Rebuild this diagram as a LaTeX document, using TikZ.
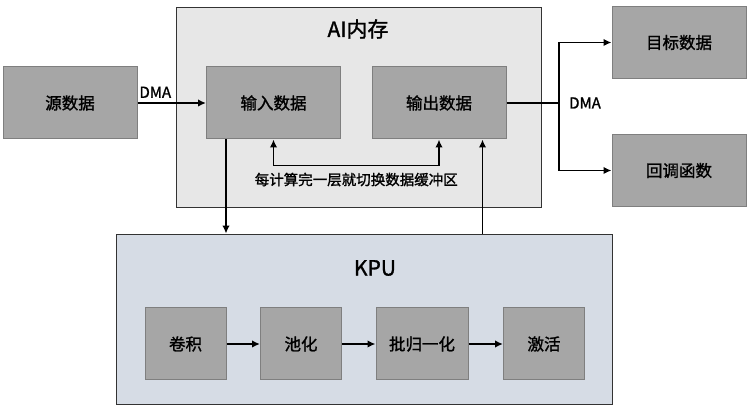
\documentclass[tikz,border=0pt]{standalone}
\usepackage{fontspec}
\setmainfont{Noto Sans CJK SC}[FakeBold=1.4]
\usetikzlibrary{arrows.meta}
\definecolor{boxgray}{HTML}{A6A6A6}
\definecolor{boxline}{HTML}{7F7F7F}
\definecolor{memfill}{HTML}{E7E7E7}
\definecolor{kpufill}{HTML}{D6DCE5}

\begin{document}
\begin{tikzpicture}[x=1pt,y=-1pt,>={Latex[length=8pt,width=7.5pt]},
    unit/.style={rectangle,draw=boxline,fill=boxgray,line width=1pt,
      minimum height=72pt,inner sep=0pt,font=\fontsize{16.5}{16.5}\selectfont},
    area/.style={rectangle,draw=black!80,line width=0.9pt,inner sep=0pt},
    arr/.style={->,line width=1.8pt},
    lbl/.style={font=\fontsize{15}{15}\selectfont}]

      \useasboundingbox (0,0) rectangle (747,411);

      % containers
      \node[area,fill=memfill,minimum width=365pt,minimum height=200pt] (mem) at (358.5,107) {};
      \node[area,fill=kpufill,minimum width=496pt,minimum height=170pt] (kpu) at (364,319) {};
      \node[font=\fontsize{21}{21}\selectfont] (memtitle) at (358,29) {AI内存};
      \node[font=\fontsize{21}{21}\selectfont] (kputitle) at (375,268) {KPU};

      \begin{scope}[every node/.style={unit,minimum width=134pt}]
        \node (src) at (70,103)    {源数据};
        \node (in)  at (273.5,103) {输入数据};
        \node (out) at (439,103)   {输出数据};
        \node (tgt) at (679,42.5)  {目标数据};
        \node (cb)  at (679,170.5) {回调函数};
      \end{scope}

      \begin{scope}[every node/.style={unit,minimum width=81pt}]
        \node (conv) at (185.5,344) {卷积};
        \node (pool) at (301,344)   {池化};
        \node[minimum width=92pt] (bn) at (422,344) {批归一化};
        \node (act)  at (544,344)   {激活};
      \end{scope}

      \coordinate (split) at (559,103);

      \begin{scope}[every node/.style={lbl}]
        \path[arr,draw] (src) -- node[above=1pt,pos=0.26] {DMA} (in);
        \draw[line width=1.8pt] (out) -- (split) node[right=6pt] {DMA};
        \draw[arr] (split) |- (tgt);
        \draw[arr] (split) |- (cb);
        \draw[arr,<->]
          (in.south) -- ++(0,26) -| node[pos=0.25,below=3pt,font=\fontsize{14.5}{14.5}\selectfont] {每计算完一层就切换数据缓冲区} (out.south);
        \draw[arr] ([xshift=20pt]in.south west) -- ([xshift=20pt]in.south west |- kpu.north);
        \draw[arr] ([xshift=-24pt]out.south east |- kpu.north) -- ([xshift=-24pt]out.south east);
      \end{scope}

      \draw[arr] (conv) -- (pool);
      \draw[arr] (pool) -- (bn);
      \draw[arr] (bn) -- (act);

    \end{tikzpicture}
\end{document}
